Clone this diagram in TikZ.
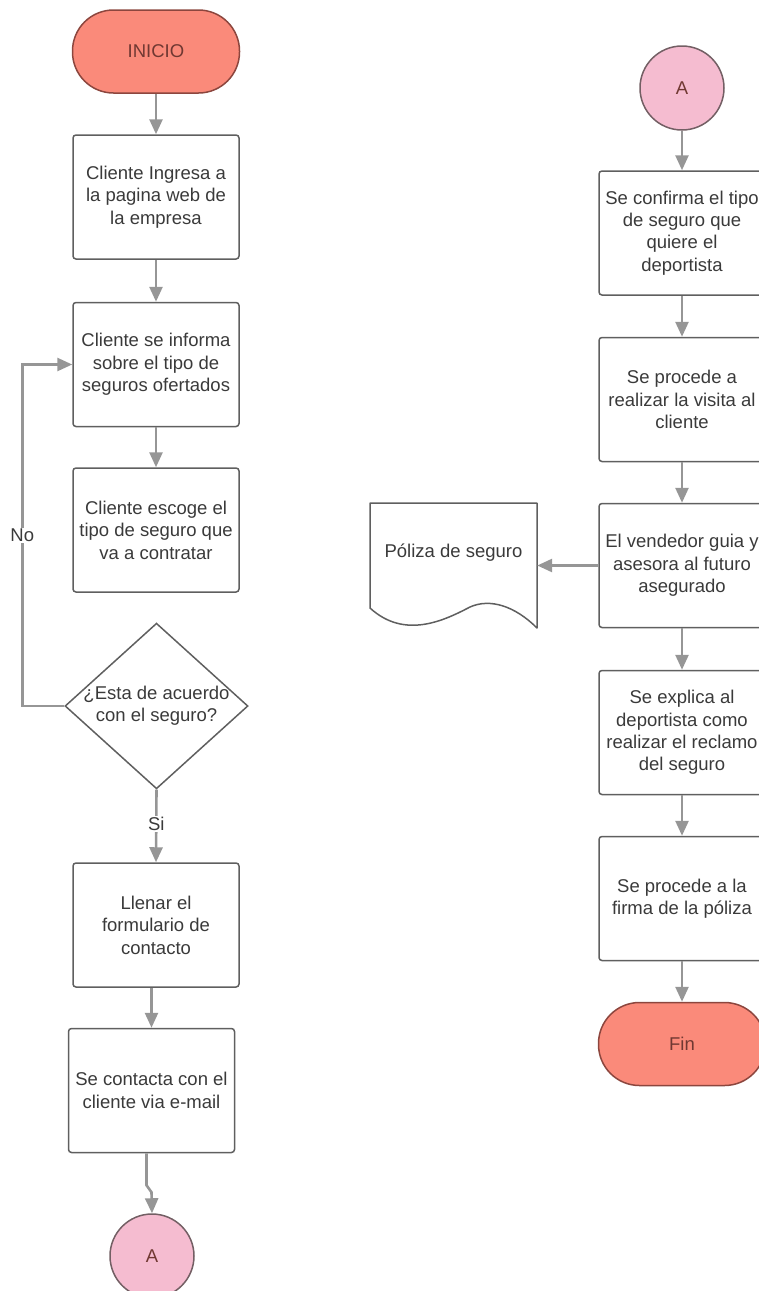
\documentclass[tikz,border=0pt]{standalone}
\usepackage{fontspec}
\setmainfont{Liberation Sans}
\usetikzlibrary{arrows.meta,positioning,shapes.geometric}
\definecolor{fcsalmon}{RGB}{250,138,122}
\definecolor{fcsalmonline}{RGB}{140,70,62}
\definecolor{fcpink}{RGB}{245,188,208}
\definecolor{fcpinkline}{RGB}{115,95,100}
\definecolor{fcgray}{RGB}{150,150,150}
\definecolor{fcbox}{RGB}{95,95,95}
\definecolor{fctext}{RGB}{58,58,58}

\tikzset{
  txt/.style={font=\fontsize{18.5}{22.4}\selectfont, text=fctext, align=center},
  stepbox/.style={txt, draw=fcbox, line width=1.5pt, rounded corners=3pt,
    minimum width=166, minimum height=124, inner sep=0pt},
  terminal/.style={txt, draw=fcsalmonline, fill=fcsalmon, line width=1.5pt,
    rounded corners=41pt, minimum width=167, minimum height=83,
    inner sep=0pt, text=fcsalmonline!80!black},
  connector/.style={txt, circle, draw=fcpinkline, fill=fcpink, line width=1.5pt,
    minimum size=84, inner sep=0pt, text=fcsalmonline!80!black},
  decision/.style={txt, diamond, draw=fcbox, line width=1.5pt,
    minimum width=183, minimum height=142, inner sep=-5pt},
  arr/.style={draw=fcgray, line width=2.6pt,
    -{Triangle[length=15pt,width=13pt]}},
  lbl/.style={txt, fill=white, inner sep=1pt}
}

\begin{document}
\begin{tikzpicture}[x=1pt, y=-1pt]
  \useasboundingbox (0,0) rectangle (759,1291);

  % --- left column ---
  \node[terminal] (inicio) at (156,51.5) {INICIO};
  \node[stepbox] (web) at (156,197) {Cliente Ingresa a\\la pagina web de\\la empresa};
  \node[stepbox] (info) at (156,364.5) {Cliente se informa\\sobre el tipo de\\seguros ofertados};
  \node[stepbox] (escoge) at (156,530) {Cliente escoge el\\tipo de seguro que\\va a contratar};
  \node[decision] (ok) at (156.5,706) {¿Esta de acuerdo\\con el seguro?};
  \node[stepbox] (form) at (156,925) {Llenar el\\formulario de\\contacto};
  \node[stepbox] (mail) at (151.5,1090.5) {Se contacta con el\\cliente via e-mail};
  \node[connector] (conA) at (152,1256) {A};

  \draw[arr] (inicio) -- (web);
  \draw[arr] (web) -- (info);
  \draw[arr] (info) -- (escoge);
  \draw[arr] (ok.west) -- ++(-42,0) |- node[lbl, pos=0.25] (no) {No} (info.west);
  \draw[arr] (ok.south) -- node[lbl, pos=0.47] (si) {Si} (form.north);
  \draw[arr] (mail.north |- form.south) -- (mail.north);
  \draw[arr] ([xshift=-5pt]mail.south) -- ++(0,32) -- ++(5,7) -- (conA.north);

  % --- right column ---
  \node[connector] (conB) at (682,88) {A};
  \node[stepbox] (confirma) at (682,233) {Se confirma el tipo\\de seguro que\\quiere el\\deportista};
  \node[stepbox] (visita) at (682,399.5) {Se procede a\\realizar la visita al\\cliente};
  \node[stepbox] (vendedor) at (682,565.5) {El vendedor guia y\\asesora al futuro\\asegurado};
  \node[stepbox] (reclamo) at (682,732.5) {Se explica al\\deportista como\\realizar el reclamo\\del seguro};
  \node[stepbox] (firma) at (682,898.5) {Se procede a la\\firma de la póliza};
  \node[terminal] (fin) at (682,1044) {Fin};

  % document shape
  \node[txt, minimum width=167, minimum height=100, inner sep=0pt] (poliza) at (453.5,553) {Póliza de seguro};
  \draw[fcbox, line width=1.5pt, line join=round]
    (370,608) -- (370,503) -- (537,503) -- (537,628)
    .. controls (515,606) and (490,598) .. (470,607)
    .. controls (445,620) and (405,640) .. (370,608) -- cycle;

  \draw[arr] (conB) -- (confirma);
  \draw[arr] (confirma) -- (visita);
  \draw[arr] (visita) -- (vendedor);
  \draw[arr] (vendedor.west) -- (vendedor.west -| poliza.east);
  \draw[arr] (vendedor) -- (reclamo);
  \draw[arr] (reclamo) -- (firma);
  \draw[arr] (firma) -- (fin);
\end{tikzpicture}
\end{document}
